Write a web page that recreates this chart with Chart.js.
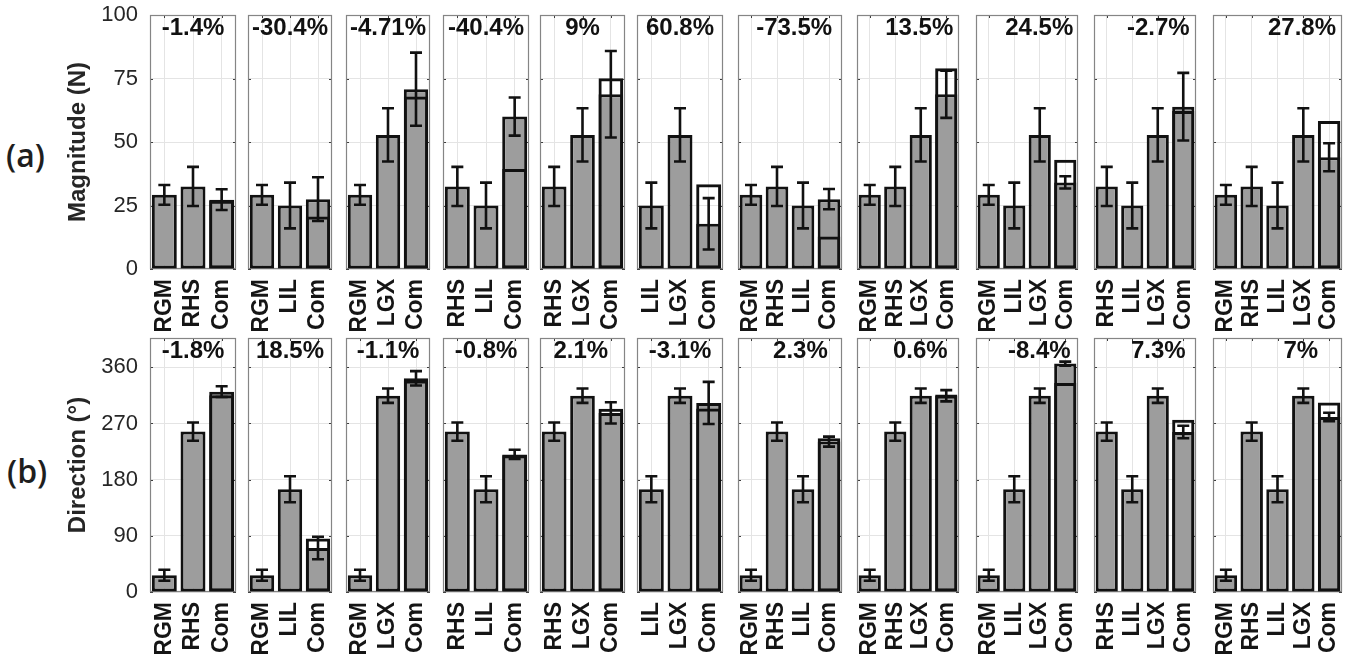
<!DOCTYPE html>
<html>
<head>
<meta charset="utf-8">
<script src="https://cdn.jsdelivr.net/npm/chart.js@4.4.1/dist/chart.umd.min.js"></script>
<style>
  html, body { margin: 0; padding: 0; background: #fff; }
  #fig { position: relative; width: 1351px; height: 663px; overflow: hidden; background: #fff; }
  #fig canvas { position: absolute; }
  .tag { position: absolute; font-family: 'Open Sans', sans-serif; font-weight: 600;
         font-size: 32px; line-height: 32px; color: #1e1e1e; }
</style>
</head>
<body>
<div id="fig">
  <div class="tag" style="left:6px;top:139px">(a)</div>
  <div class="tag" style="left:7px;top:455px">(b)</div>
</div>
<script>
// Muscle groups shown in each panel (same for both rows)
const panelLabels = [
  ['RGM', 'RHS', 'Com'],
  ['RGM', 'LIL', 'Com'],
  ['RGM', 'LGX', 'Com'],
  ['RHS', 'LIL', 'Com'],
  ['RHS', 'LGX', 'Com'],
  ['LIL', 'LGX', 'Com'],
  ['RGM', 'RHS', 'LIL', 'Com'],
  ['RGM', 'RHS', 'LGX', 'Com'],
  ['RGM', 'LIL', 'LGX', 'Com'],
  ['RHS', 'LIL', 'LGX', 'Com'],
  ['RGM', 'RHS', 'LIL', 'LGX', 'Com']
];

// (a) force magnitude, N: measured means, standard deviations, predicted combination
const magMean = [
  [29.2, 32.5, 27.3],
  [29.2, 25.0, 27.5],
  [29.2, 52.8, 70.8],
  [32.5, 25.0, 60.0],
  [32.5, 52.8, 68.8],
  [25.0, 52.8, 17.8],
  [29.2, 32.5, 25.0, 27.5],
  [29.2, 32.5, 52.8, 68.8],
  [29.2, 25.0, 52.8, 34.1],
  [32.5, 25.0, 52.8, 63.9],
  [29.2, 32.5, 25.0, 52.8, 44.0]
];
const magSD = [
  [3.9, 7.7, 4.1],
  [3.9, 9.0, 8.6],
  [3.9, 10.5, 14.4],
  [7.7, 9.0, 7.5],
  [7.7, 10.5, 17.0],
  [9.0, 10.5, 10.1],
  [3.9, 7.7, 9.0, 4.0],
  [3.9, 7.7, 10.5, 9.3],
  [3.9, 9.0, 10.5, 2.4],
  [7.7, 9.0, 10.5, 13.3],
  [3.9, 7.7, 9.0, 10.5, 5.5]
];
const magPred = [26.9, 20.7, 67.9, 39.4, 75.1, 33.4, 12.8, 79.0, 43.0, 62.2, 58.3];
const magDiff = ['-1.4%', '-30.4%', '-4.71%', '-40.4%', '9%', '60.8%', '-73.5%', '13.5%', '24.5%', '-2.7%', '27.8%'];

// (b) force direction, degrees
const dirMean = [
  [26.8, 257.0, 321.0],
  [26.8, 164.6, 70.5],
  [26.8, 314.5, 342.5],
  [257.0, 164.6, 220.5],
  [257.0, 314.5, 287.0],
  [164.6, 314.5, 303.0],
  [26.8, 257.0, 164.6, 241.0],
  [26.8, 257.0, 314.5, 314.5],
  [26.8, 164.6, 314.5, 366.0],
  [257.0, 164.6, 314.5, 256.4],
  [26.8, 257.0, 164.6, 314.5, 280.5]
];
const dirSD = [
  [8.8, 14.7, 8.6],
  [8.8, 20.9, 18.1],
  [8.8, 11.5, 11.5],
  [14.7, 20.9, 7.5],
  [14.7, 11.5, 17.0],
  [20.9, 11.5, 33.7],
  [8.8, 14.7, 20.9, 8.0],
  [8.8, 14.7, 11.5, 9.0],
  [8.8, 20.9, 11.5, 3.2],
  [14.7, 20.9, 11.5, 10.0],
  [8.8, 14.7, 20.9, 11.5, 6.7]
];
const dirPred = [315.2, 85.8, 339.0, 219.0, 293.5, 294.0, 246.5, 316.4, 335.0, 276.0, 303.8];
const dirDiff = ['-1.8%', '18.5%', '-1.1%', '-0.8%', '2.1%', '-3.1%', '2.3%', '0.6%', '-8.4%', '7.3%', '7%'];

// Axis ticks
const magTicks = [0, 25, 50, 75, 100];
const dirTicks = [0, 90, 180, 270, 360];

// ---- layout ----
const panelBox = [[150, 236], [248, 332], [346, 430], [443, 529], [540, 625], [637, 723],
                  [738, 842], [857, 959], [976, 1078], [1094, 1196], [1213, 1342]];
const magNoteX = [0.5, 0.5, 0.5, 0.5, 0.5, 0.5, 0.54, 0.61, 0.62, 0.63, 0.69];
const dirNoteX = [0.5, 0.5, 0.5, 0.5, 0.48, 0.5, 0.6, 0.62, 0.62, 0.63, 0.68];
const FONT = "'Liberation Sans', Arial, sans-serif";

const panelFrame = {
  id: 'panelFrame',
  beforeDatasetsDraw(chart) {
    const { ctx, chartArea: a, scales: { x, y } } = chart;
    ctx.save();
    ctx.strokeStyle = '#3c3c3c';
    ctx.lineWidth = 1;
    ctx.beginPath();
    y.ticks.forEach(t => {
      const py = Math.round(y.getPixelForValue(t.value)) + 0.5;
      ctx.moveTo(a.left, py); ctx.lineTo(a.left + 3, py);
      ctx.moveTo(a.right, py); ctx.lineTo(a.right - 3, py);
    });
    x.ticks.forEach((t, i) => {
      const px = Math.round(x.getPixelForTick(i)) + 0.5;
      ctx.moveTo(px, a.top); ctx.lineTo(px, a.top + 3);
      ctx.moveTo(px, a.bottom); ctx.lineTo(px, a.bottom - 3);
    });
    ctx.stroke();
    ctx.strokeStyle = '#858585';
    ctx.lineWidth = 1.2;
    ctx.strokeRect(a.left + 0.5, a.top + 0.5, a.right - a.left - 1, a.bottom - a.top - 1);
    ctx.restore();
  }
};

const errorBars = {
  id: 'errorBars',
  afterDatasetsDraw(chart, args, opts) {
    const { ctx, scales: { y } } = chart;
    const meta = chart.getDatasetMeta(0);
    const vals = chart.data.datasets[0].data;
    ctx.save();
    ctx.strokeStyle = '#111';
    ctx.lineWidth = 2.6;
    ctx.beginPath();
    meta.data.forEach((bar, i) => {
      const hi = y.getPixelForValue(vals[i] + opts.sd[i]);
      const lo = y.getPixelForValue(vals[i] - opts.sd[i]);
      const c = 6;
      ctx.moveTo(bar.x, hi); ctx.lineTo(bar.x, lo);
      ctx.moveTo(bar.x - c, hi); ctx.lineTo(bar.x + c, hi);
      ctx.moveTo(bar.x - c, lo); ctx.lineTo(bar.x + c, lo);
    });
    ctx.stroke();
    ctx.restore();
  }
};

const panelNote = {
  id: 'panelNote',
  afterDatasetsDraw(chart, args, opts) {
    const { ctx, chartArea: a } = chart;
    ctx.save();
    ctx.font = 'bold 24px ' + FONT;
    ctx.fillStyle = '#111';
    ctx.textAlign = 'center';
    ctx.textBaseline = 'middle';
    ctx.fillText(opts.text, a.left + opts.frac * (a.right - a.left), a.top + 13);
    ctx.restore();
  }
};

const fig = document.getElementById('fig');

function makePanel(row, i) {
  const isMag = row === 0;
  const labels = panelLabels[i];
  const means = (isMag ? magMean : dirMean)[i];
  const sds = (isMag ? magSD : dirSD)[i];
  const pred = (isMag ? magPred : dirPred)[i];
  const ticks = isMag ? magTicks : dirTicks;
  const first = i === 0;
  const [bl, br] = panelBox[i];
  const areaTop = isMag ? 15 : 338;
  const canvasTop = areaTop - 15;
  const axisW = 90;
  const left = first ? bl - axisW : bl - 6;
  const width = first ? (br - bl) + axisW + 6 : (br - bl) + 12;
  const height = 15 + 254 + 62;

  const cv = document.createElement('canvas');
  cv.width = width; cv.height = height;
  cv.style.left = left + 'px'; cv.style.top = canvasTop + 'px';
  cv.style.width = width + 'px'; cv.style.height = height + 'px';
  fig.appendChild(cv);

  new Chart(cv, {
    type: 'bar',
    data: {
      labels: labels,
      datasets: [
        {
          data: means,
          backgroundColor: '#9d9d9d',
          borderColor: '#111',
          borderWidth: 3,
          borderSkipped: false,
          grouped: false,
          barPercentage: 0.87,
          categoryPercentage: 1.0,
          order: 1
        },
        {
          data: labels.map((l, k) => (k === labels.length - 1 ? pred : null)),
          backgroundColor: 'rgba(0,0,0,0)',
          borderColor: '#111',
          borderWidth: 3,
          borderSkipped: false,
          grouped: false,
          barPercentage: 0.87,
          categoryPercentage: 1.0,
          order: 0
        }
      ]
    },
    options: {
      responsive: false,
      devicePixelRatio: 1,
      animation: false,
      events: [],
      layout: { padding: { top: 15, left: first ? 0 : 6, right: 6, bottom: 0 } },
      plugins: {
        legend: { display: false },
        tooltip: { enabled: false },
        errorBars: { sd: sds },
        panelNote: { text: (isMag ? magDiff : dirDiff)[i], frac: (isMag ? magNoteX : dirNoteX)[i] }
      },
      scales: {
        x: {
          offset: true,
          grid: { offset: false, color: '#e4e4e4', lineWidth: 1, drawTicks: false },
          border: { display: false },
          ticks: {
            autoSkip: false, minRotation: 90, maxRotation: 90, padding: 10,
            color: '#151515', font: { family: FONT, size: 23, weight: 'bold' }
          },
          afterFit: s => { s.height = 62; s.paddingLeft = 0; s.paddingRight = 0; }
        },
        y: {
          min: 0,
          max: isMag ? 100 : 407,
          grid: { color: '#e4e4e4', lineWidth: 1, drawTicks: false },
          border: { display: false },
          afterBuildTicks: s => { s.ticks = ticks.map(v => ({ value: v })); },
          ticks: {
            display: first, padding: 12, color: '#262626',
            font: { family: FONT, size: 22 }
          },
          title: {
            display: first,
            text: isMag ? 'Magnitude (N)' : 'Direction (°)',
            color: '#262626',
            font: { family: FONT, size: 24, weight: 'bold' },
            padding: { top: 4, bottom: 0 }
          },
          afterFit: s => { s.width = first ? axisW : 0; s.paddingTop = 0; s.paddingBottom = 0; }
        }
      }
    },
    plugins: [panelFrame, errorBars, panelNote]
  });
}

for (let r = 0; r < 2; r++) {
  for (let i = 0; i < panelLabels.length; i++) makePanel(r, i);
}
</script>
</body>
</html>
